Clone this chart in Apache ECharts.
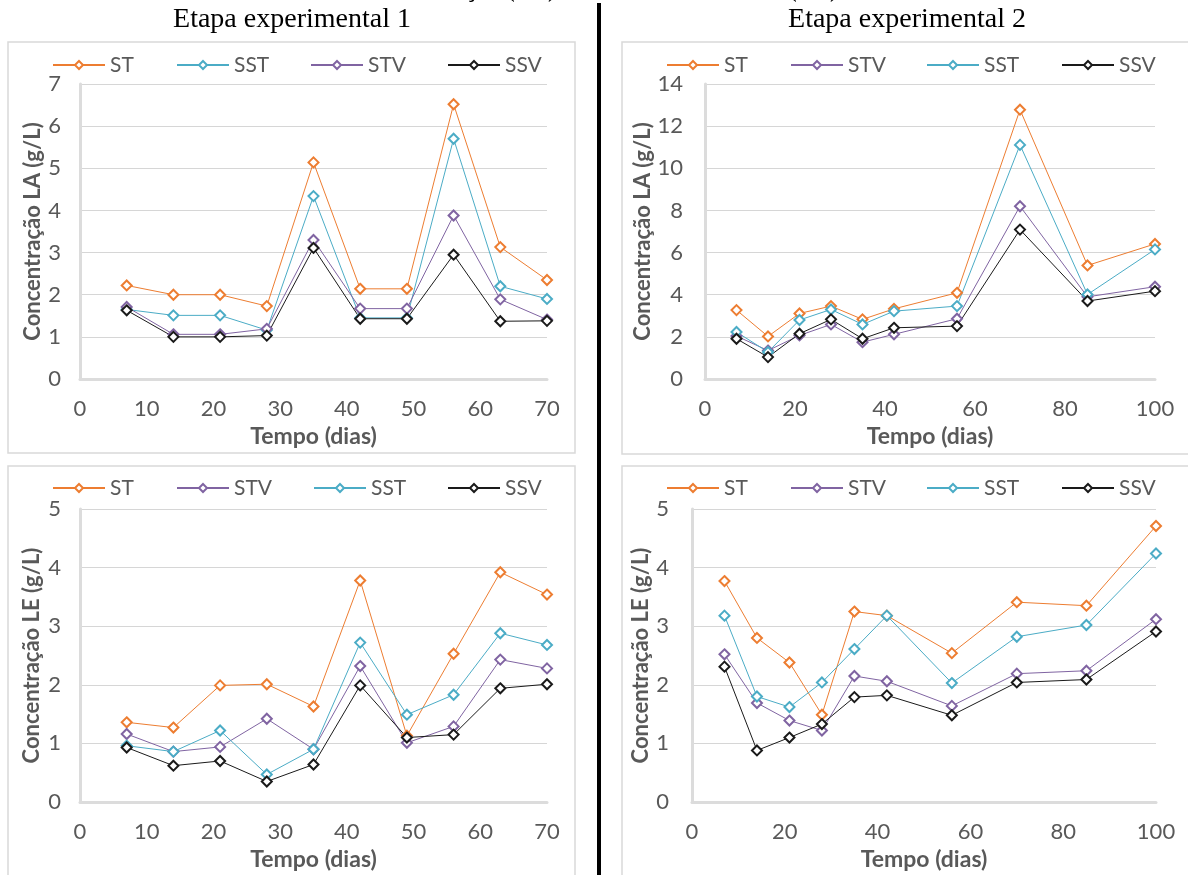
<!DOCTYPE html>
<html>
<head>
<meta charset="utf-8">
<script src="https://cdn.jsdelivr.net/npm/echarts@6/dist/echarts.min.js"></script>
<style>
html,body{margin:0;padding:0;background:#fff;}
#chart{width:1188px;height:875px;}
</style>
</head>
<body>
<div id="chart"></div>
<script>
// ---- data ----
const daysE1 = [7, 14, 21, 28, 35, 42, 49, 56, 63, 70];
const daysE2 = [7, 14, 21, 28, 35, 42, 56, 70, 85, 100];

const LA1_ST  = [2.22, 2.00, 2.00, 1.73, 5.14, 2.14, 2.14, 6.52, 3.13, 2.35];
const LA1_SST = [1.65, 1.51, 1.51, 1.16, 4.34, 1.45, 1.45, 5.70, 2.20, 1.90];
const LA1_STV = [1.71, 1.06, 1.06, 1.19, 3.30, 1.67, 1.67, 3.88, 1.89, 1.41];
const LA1_SSV = [1.63, 1.00, 1.00, 1.03, 3.11, 1.43, 1.43, 2.95, 1.37, 1.38];

const LA2_ST  = [3.27, 2.02, 3.11, 3.46, 2.83, 3.33, 4.09, 12.78, 5.39, 6.41];
const LA2_SST = [2.23, 1.28, 2.80, 3.30, 2.59, 3.22, 3.46, 11.11, 4.01, 6.15];
const LA2_STV = [2.04, 1.35, 2.07, 2.59, 1.75, 2.12, 2.86, 8.20, 3.90, 4.38];
const LA2_SSV = [1.91, 1.04, 2.15, 2.83, 1.91, 2.43, 2.51, 7.09, 3.70, 4.17];

const LE1_ST  = [1.36, 1.27, 1.99, 2.01, 1.63, 3.78, 1.13, 2.53, 3.92, 3.54];
const LE1_SST = [0.96, 0.86, 1.22, 0.47, 0.90, 2.72, 1.49, 1.83, 2.88, 2.68];
const LE1_STV = [1.16, 0.86, 0.94, 1.42, 0.90, 2.32, 1.01, 1.29, 2.43, 2.28];
const LE1_SSV = [0.93, 0.62, 0.70, 0.35, 0.64, 1.99, 1.10, 1.15, 1.94, 2.01];

const LE2_ST  = [3.77, 2.80, 2.38, 1.49, 3.25, 3.18, 2.54, 3.41, 3.35, 4.71];
const LE2_SST = [3.18, 1.80, 1.62, 2.04, 2.61, 3.18, 2.03, 2.82, 3.02, 4.24];
const LE2_STV = [2.52, 1.69, 1.39, 1.22, 2.15, 2.06, 1.64, 2.19, 2.24, 3.12];
const LE2_SSV = [2.31, 0.88, 1.10, 1.33, 1.79, 1.82, 1.48, 2.04, 2.09, 2.91];

const titles = ['Etapa experimental 1', 'Etapa experimental 2'];
const xName = 'Tempo (dias)';
const yNameLA = 'Concentração LA (g/L)';
const yNameLE = 'Concentração LE (g/L)';

const colors = { ST: '#ED7D31', SST: '#4BACC6', STV: '#8064A2', SSV: '#1a1a1a' };

// ---- layout ----
const FONT = 'Lato';
const labelColor = '#595959';
const grids = [
  { left: 80,  top: 84,  width: 467, height: 295 },
  { left: 705, top: 84,  width: 450, height: 295 },
  { left: 80,  top: 509, width: 467, height: 293 },
  { left: 692, top: 509, width: 464, height: 293 }
];
const axisCfg = [
  { xmax: 70,  xint: 10, ymax: 7,  yint: 1, yname: yNameLA, ygap: 36, ylm: 19 },
  { xmax: 100, xint: 20, ymax: 14, yint: 2, yname: yNameLA, ygap: 48, ylm: 22 },
  { xmax: 70,  xint: 10, ymax: 5,  yint: 1, yname: yNameLE, ygap: 37, ylm: 19 },
  { xmax: 100, xint: 20, ymax: 5,  yint: 1, yname: yNameLE, ygap: 35, ylm: 23 }
];

const xAxes = axisCfg.map((c, i) => ({
  type: 'value', gridIndex: i, min: 0, max: c.xmax, interval: c.xint,
  name: xName, nameLocation: 'middle', nameGap: 46,
  nameTextStyle: { fontFamily: FONT, fontSize: 23, fontWeight: 'bold', color: labelColor },
  axisLine: { show: true, onZero: true, lineStyle: { color: '#dcdcdc', width: 3 } },
  axisTick: { show: false },
  splitLine: { show: false },
  axisLabel: { fontFamily: FONT, fontSize: 22, color: labelColor, margin: 19 }
}));
const yAxes = axisCfg.map((c, i) => ({
  type: 'value', gridIndex: i, min: 0, max: c.ymax, interval: c.yint,
  name: c.yname, nameLocation: 'middle', nameGap: c.ygap,
  nameTextStyle: { fontFamily: FONT, fontSize: 22, fontWeight: 'bold', color: labelColor },
  axisLine: { show: true, lineStyle: { color: '#dcdcdc', width: 3 } },
  axisTick: { show: false },
  splitLine: { show: true, lineStyle: { color: '#d6d6d6', width: 1.2 } },
  axisLabel: { fontFamily: FONT, fontSize: 22, color: labelColor, margin: c.ylm }
}));

function mk(name, days, vals, idx) {
  return {
    type: 'line', name: name, xAxisIndex: idx, yAxisIndex: idx,
    data: days.map((d, k) => [d, vals[k]]),
    symbol: 'emptyDiamond', symbolSize: 10,
    color: colors[name],
    lineStyle: { width: 1, color: colors[name] },
    itemStyle: { color: colors[name], borderColor: colors[name], borderWidth: 2 },
    emphasis: { disabled: true },
    animation: false
  };
}

const series = [
  mk('ST', daysE1, LA1_ST, 0), mk('SST', daysE1, LA1_SST, 0), mk('STV', daysE1, LA1_STV, 0), mk('SSV', daysE1, LA1_SSV, 0),
  mk('ST', daysE2, LA2_ST, 1), mk('STV', daysE2, LA2_STV, 1), mk('SST', daysE2, LA2_SST, 1), mk('SSV', daysE2, LA2_SSV, 1),
  mk('ST', daysE1, LE1_ST, 2), mk('STV', daysE1, LE1_STV, 2), mk('SST', daysE1, LE1_SST, 2), mk('SSV', daysE1, LE1_SSV, 2),
  mk('ST', daysE2, LE2_ST, 3), mk('STV', daysE2, LE2_STV, 3), mk('SST', daysE2, LE2_SST, 3), mk('SSV', daysE2, LE2_SSV, 3)
];

// legend items: [name, left, top]
const legendItems = [
  ['ST', 52, 54], ['SST', 176, 54], ['STV', 310, 54], ['SSV', 447, 54],
  ['ST', 666, 54], ['STV', 790, 54], ['SST', 926, 54], ['SSV', 1061, 54],
  ['ST', 52, 477], ['STV', 176, 477], ['SST', 313, 477], ['SSV', 447, 477],
  ['ST', 666, 477], ['STV', 790, 477], ['SST', 926, 477], ['SSV', 1061, 477]
];
const legends = legendItems.map(it => ({
  data: [it[0]], left: it[1], top: it[2], padding: 0,
  itemWidth: 52, itemHeight: 10, itemGap: 5,
  selectedMode: false,
  textStyle: { fontFamily: FONT, fontSize: 21, color: labelColor, lineHeight: 22 }
}));

const graphic = [
  { type: 'rect', shape: { x: 8, y: 42, width: 567, height: 411 }, style: { fill: 'none', stroke: '#d9d9d9', lineWidth: 1.5 }, z: -1 },
  { type: 'rect', shape: { x: 622, y: 42, width: 620, height: 412 }, style: { fill: 'none', stroke: '#d9d9d9', lineWidth: 1.5 }, z: -1 },
  { type: 'rect', shape: { x: 8, y: 466, width: 567, height: 450 }, style: { fill: 'none', stroke: '#d9d9d9', lineWidth: 1.5 }, z: -1 },
  { type: 'rect', shape: { x: 622, y: 466, width: 620, height: 450 }, style: { fill: 'none', stroke: '#d9d9d9', lineWidth: 1.5 }, z: -1 },
  { type: 'rect', shape: { x: 597, y: 3, width: 4, height: 880 }, style: { fill: '#000' } },
  { type: 'text', style: { text: titles[0], x: 292, y: 20, textAlign: 'center', textVerticalAlign: 'middle', fontFamily: 'Liberation Serif', fontSize: 28, fill: '#000' } },
  { type: 'text', style: { text: titles[1], x: 907, y: 20, textAlign: 'center', textVerticalAlign: 'middle', fontFamily: 'Liberation Serif', fontSize: 28, fill: '#000' } },
  { type: 'text', style: { text: 'Concentração (LA)', x: 556, y: 3, textAlign: 'right', textVerticalAlign: 'bottom', fontFamily: 'Liberation Serif', fontWeight: 'bold', fontSize: 24, lineHeight: 24, fill: '#000' } },
  { type: 'text', style: { text: 'Lodo (LA)', x: 838, y: 3, textAlign: 'right', textVerticalAlign: 'bottom', fontFamily: 'Liberation Serif', fontWeight: 'bold', fontSize: 24, lineHeight: 24, fill: '#000' } }
];

const chart = echarts.init(document.getElementById('chart'), null, { renderer: 'canvas' });
chart.setOption({
  backgroundColor: '#ffffff',
  animation: false,
  grid: grids,
  xAxis: xAxes,
  yAxis: yAxes,
  legend: legends,
  series: series,
  graphic: graphic
});
</script>
</body>
</html>
